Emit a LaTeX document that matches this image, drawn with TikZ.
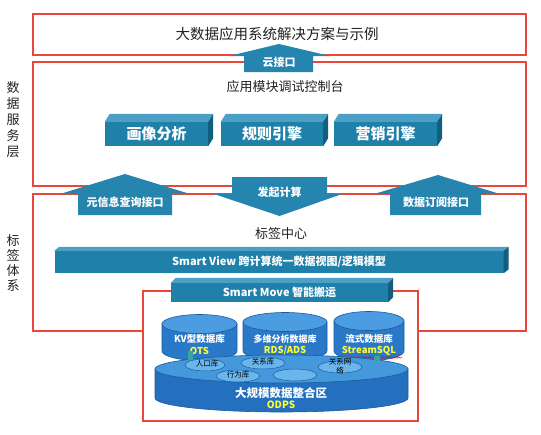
\documentclass[tikz,border=0pt]{standalone}
\usepackage{fontspec}
\setmainfont{Noto Sans CJK SC}
\usetikzlibrary{calc,decorations.pathmorphing}
\definecolor{redline}{HTML}{E8473A}
\definecolor{boxfront}{HTML}{1F80AA}
\definecolor{boxtop}{HTML}{4CA0C6}
\definecolor{boxside}{HTML}{125E7E}
\definecolor{arrowc}{HTML}{2585AE}
\definecolor{cylbody}{HTML}{2A79C8}
\definecolor{cyltop}{HTML}{4C9CE2}
\definecolor{bigbody}{HTML}{2470BF}
\definecolor{bigtop}{HTML}{4598DC}
\definecolor{cylline}{HTML}{1B5C9E}
\definecolor{smallell}{HTML}{6AB5EC}
\definecolor{tealc}{HTML}{3AA3A0}
\definecolor{ylw}{HTML}{FFFF30}
\definecolor{darktext}{HTML}{222222}
\newcommand{\fs}[1]{\fontsize{#1}{#1}\selectfont}
\newcommand{\boxthreed}[3]{%
  \fill[boxtop] (#1.north west) -- ++(#2,-#3) -- ($(#1.north east)+(#2,-#3)$) -- (#1.north east) -- cycle;
  \fill[boxside] (#1.north east) -- ++(#2,-#3) -- ($(#1.south east)+(#2,-#3)$) -- (#1.south east) -- cycle;
}
\newcommand{\cylshape}[7]{%
  \pgfmathsetmacro\cxa{#1-#3}\pgfmathsetmacro\cxb{#1+#3}%
  \pgfmathsetmacro\yb{#2+#5}%
  \pgfmathsetmacro\kx{0.5523*#3}\pgfmathsetmacro\ky{0.5523*#4}%
  \filldraw[fill=#6, draw=cylline, line width=0.6pt] (\cxa,#2) -- (\cxa,\yb) .. controls (\cxa,\yb+\ky) and (#1-\kx,\yb+#4) .. (#1,\yb+#4) .. controls (#1+\kx,\yb+#4) and (\cxb,\yb+\ky) .. (\cxb,\yb) -- (\cxb,#2) -- cycle;
  \filldraw[fill=#7, draw=cylline, line width=0.6pt] (#1,#2) ellipse [x radius=#3, y radius=#4];
}
\tikzset{
  layerbox/.style={draw=redline, line width=1.1pt},
  front/.style={fill=boxfront, text=white, inner sep=0pt},
  arrowshape/.style={fill=arrowc},
  arrowtext/.style={text=white, font=\fs{11}\bfseries},
  heading/.style={text=darktext},
  cyltext/.style={text=white, font=\fs{9.5}\bfseries},
  ylwtext/.style={text=ylw, font=\fs{9.5}\bfseries},
  smallell/.style={ellipse/.style={}, fill=smallell, draw=cylline, line width=0.5pt},
  elltext/.style={text=black, font=\fs{7.5}}
}
\begin{document}
\begin{tikzpicture}[x=1pt,y=-1pt]
\useasboundingbox (0,0) rectangle (541,434);
\fill[white] (0,0) rectangle (541,434);

% layer boxes
\draw[layerbox] (33,14) rectangle (526,55);
\draw[layerbox] (33,62) rectangle (526,186);
\draw[layerbox] (33,194) rectangle (526,331);
\draw[layerbox, fill=white] (143,291) rectangle (418,421);

% side labels
\node[heading, font=\fontsize{13}{16}\selectfont, align=center] (lab1) at (13,120) {数\\据\\服\\务\\层};
\node[heading, font=\fontsize{13}{15}\selectfont, align=center] (lab2) at (13,262.5) {标\\签\\体\\系};

% headings
\node[heading, font=\fs{14.5}] (title) at (277,34) {大数据应用系统解决方案与示例};
\node[heading, font=\fs{13}] (console) at (285,87) {应用模块调试控制台};
\node[heading, font=\fs{13}] (center) at (281,234) {标签中心};

% 3D boxes
\node[front, minimum width=103pt, minimum height=24pt, font=\fs{15}\bfseries] (hx) at (156.5,134) {画像分析};
\boxthreed{hx}{5}{8}
\node[front, minimum width=102pt, minimum height=24pt, font=\fs{15}\bfseries] (gz) at (272,134) {规则引擎};
\boxthreed{gz}{5}{8}
\node[front, minimum width=103pt, minimum height=24pt, font=\fs{15}\bfseries] (yx) at (385.5,134) {营销引擎};
\boxthreed{yx}{5}{8}
\node[front, minimum width=449pt, minimum height=22pt, font=\fs{11}\bfseries] (sv) at (279,262) {Smart View 跨计算统一数据视图/逻辑模型};
\boxthreed{sv}{5}{4}
\node[front, minimum width=217pt, minimum height=19pt, font=\fs{11}\bfseries] (sm) at (279.5,292.5) {Smart Move 智能搬运};
\boxthreed{sm}{5}{5}

% arrows
\fill[arrowshape] (279,44) -- (330,56) -- (313,56) -- (313,72) -- (244,72) -- (244,56) -- (229,56) -- cycle;
\node[arrowtext] (yun) at (279,62) {云接口};

\fill[arrowshape] (125,174) -- (190,194) -- (172,194) -- (172,215) -- (78,215) -- (78,194) -- (60,194) -- cycle;
\node[arrowtext] (meta) at (125,202) {元信息查询接口};

\fill[arrowshape] (232,177) -- (327,177) -- (327,194) -- (342,194) -- (279.5,216) -- (214,194) -- (232,194) -- cycle;
\node[arrowtext] (calc) at (279.5,192) {发起计算};

\fill[arrowshape] (438,175) -- (500,194) -- (481,194) -- (481,215) -- (390,215) -- (390,194) -- (374,194) -- cycle;
\node[arrowtext] (sub) at (436,202) {数据订阅接口};

% small cylinders
\cylshape{199.5}{324}{37.5}{9.5}{27}{cylbody}{cyltop}
\cylshape{285}{322}{42}{9.5}{29}{cylbody}{cyltop}
\cylshape{369}{321}{35}{9.5}{30}{cylbody}{cyltop}
\node[cyltext] (kv) at (199.5,339) {KV型数据库};
\node[ylwtext] (ots) at (199.5,351) {OTS};
\node[cyltext, font=\fs{9}\bfseries] (dw) at (285,339) {多维分析数据库};
\node[ylwtext] (rds) at (285,351) {RDS/ADS};
\node[cyltext] (ls) at (369,339) {流式数据库};
\node[ylwtext] (ssql) at (369,351) {StreamSQL};
\draw[red, line width=0.5pt, decorate, decoration={snake, amplitude=0.7pt, segment length=2.5pt}] (343,357.5) -- (402,357.5);

% big cylinder
\cylshape{281.5}{369}{126.5}{14}{29}{bigbody}{bigtop}
\fill[tealc] (188,351) rectangle (193,366);
\fill[tealc] (374,356) rectangle (380,361);

% small ellipses on top
\filldraw[fill=smallell, draw=cylline, line width=0.5pt] (205,365) ellipse [x radius=20, y radius=6];
\node[elltext] (rk) at (207,364) {人口库};
\filldraw[fill=smallell, draw=cylline, line width=0.5pt] (263,363) ellipse [x radius=22, y radius=6];
\node[elltext] (gx) at (263,362) {关系库};
\filldraw[fill=smallell, draw=cylline, line width=0.5pt] (238,376) ellipse [x radius=22, y radius=6];
\node[elltext] (xw) at (238,375) {行为库};
\filldraw[fill=smallell, draw=cylline, line width=0.5pt] (295,375) ellipse [x radius=22, y radius=6];
\filldraw[fill=smallell, draw=cylline, line width=0.5pt] (340,367) ellipse [x radius=22, y radius=6];
\node[elltext, align=center, font=\fontsize{7.5}{8.5}\selectfont] (gxw) at (340,366) {关系网\\络};

\node[text=white, font=\fs{11.5}\bfseries] (odpsname) at (281,393) {大规模数据整合区};
\node[text=ylw, font=\fs{10}\bfseries] (odps) at (281,405) {ODPS};
\end{tikzpicture}
\end{document}
